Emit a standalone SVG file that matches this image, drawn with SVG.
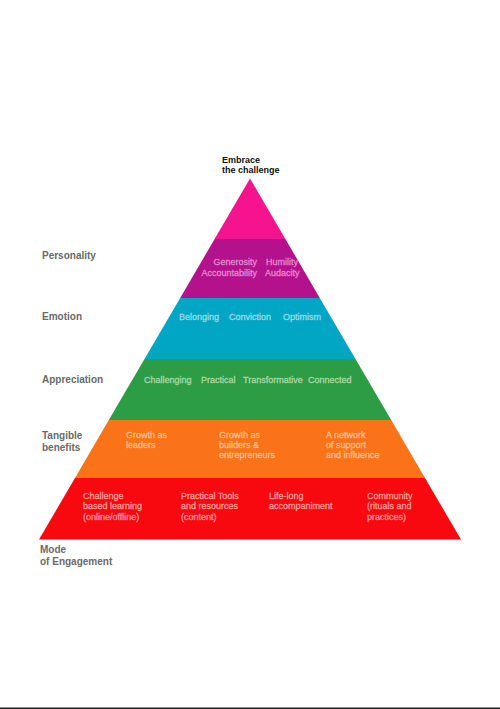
<svg xmlns="http://www.w3.org/2000/svg" width="500" height="709" viewBox="0 0 500 709">
<style>
text{font-family:"Liberation Sans",Arial,sans-serif;font-size:9px;}
.side{fill:#6a6a6a;font-size:10px;font-weight:bold;}
.top{fill:#111;font-weight:bold;font-size:9px;}
.b{stroke-width:0.3px;}
.t1{fill:#E589CF;stroke:#E589CF;}
.t2{fill:#9FD6E6;stroke:#9FD6E6;}
.t3{fill:#A8D8A2;stroke:#A8D8A2;}
.t4{fill:#FDBE8E;stroke:#FDBE8E;}
.t5{fill:#FF9C9C;stroke:#FF9C9C;}
</style>
<rect x="0" y="0" width="500" height="709" fill="#ffffff"/>
<g id="band-top"><polygon points="250,178.5 285.4,239 214.6,239" fill="#F5148E"/></g>
<g id="band-personality" class="b">
<polygon points="214.6,239 285.4,239 319.8,298 180.2,298" fill="#B3128C" stroke="none"/>
<text class="t1" x="257" y="265" text-anchor="end">Generosity</text>
<text class="t1" x="257" y="275.5" text-anchor="end">Accountability</text>
<text class="t1" x="266" y="265">Humility</text>
<text class="t1" x="265" y="275.5">Audacity</text>
</g>
<g id="band-emotion" class="b">
<polygon points="180.2,298 319.8,298 355.5,359 144.5,359" fill="#00A6C4" stroke="none"/>
<text class="t2" x="179" y="319.5">Belonging</text>
<text class="t2" x="229" y="319.5">Conviction</text>
<text class="t2" x="283" y="319.5">Optimism</text>
</g>
<g id="band-appreciation" class="b">
<polygon points="144.5,359 355.5,359 391.2,420 108.8,420" fill="#2C9C45" stroke="none"/>
<text class="t3" x="144" y="382.5">Challenging</text>
<text class="t3" x="201" y="382.5">Practical</text>
<text class="t3" x="243" y="382.5">Transformative</text>
<text class="t3" x="308" y="382.5">Connected</text>
</g>
<g id="band-benefits" class="b">
<polygon points="108.8,420 391.2,420 425,478 75,478" fill="#FB7318" stroke="none"/>
<text class="t4" x="126" y="438">Growth as</text>
<text class="t4" x="126" y="448">leaders</text>
<text class="t4" x="219" y="438">Growth as</text>
<text class="t4" x="219" y="448">builders &amp;</text>
<text class="t4" x="219" y="458">entrepreneurs</text>
<text class="t4" x="326" y="438">A network</text>
<text class="t4" x="326" y="448">of support</text>
<text class="t4" x="326" y="458">and influence</text>
</g>
<g id="band-engagement" class="b">
<polygon points="75,478 425,478 461,539.5 39,539.5" fill="#F8090F" stroke="none"/>
<text class="t5" x="83" y="499">Challenge</text>
<text class="t5" x="83" y="509">based learning</text>
<text class="t5" x="83" y="519.5">(online/offline)</text>
<text class="t5" x="181" y="499">Practical Tools</text>
<text class="t5" x="181" y="509">and resources</text>
<text class="t5" x="181" y="519.5">(content)</text>
<text class="t5" x="269" y="499">Life-long</text>
<text class="t5" x="269" y="509">accompaniment</text>
<text class="t5" x="367" y="499">Community</text>
<text class="t5" x="367" y="509">(rituals and</text>
<text class="t5" x="367" y="519.5">practices)</text>
</g>
<g id="label-top">
<text class="top" x="222" y="162.5">Embrace</text>
<text class="top" x="222" y="173">the challenge</text>
</g>
<g id="side-labels">
<text class="side" x="42" y="259">Personality</text>
<text class="side" x="42" y="319.5">Emotion</text>
<text class="side" x="42" y="382.5">Appreciation</text>
<text class="side" x="42" y="438.5">Tangible</text>
<text class="side" x="42" y="450.5">benefits</text>
<text class="side" x="40" y="553">Mode</text>
<text class="side" x="40" y="565">of Engagement</text>
</g>
<g id="connectors"></g>
<rect x="0" y="707.5" width="500" height="1.5" fill="#222222"/>
</svg>
